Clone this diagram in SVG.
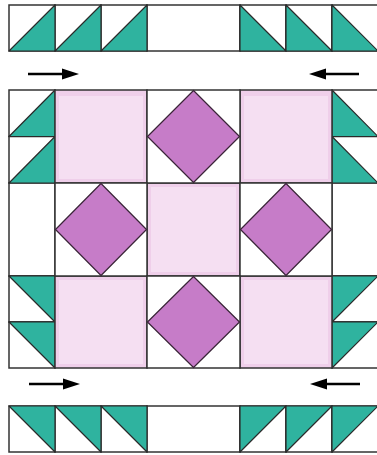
<svg xmlns="http://www.w3.org/2000/svg" width="377" height="455" viewBox="0 0 377 455">
<defs>
<style>
.bg{fill:#ffffff}
.cell{fill:#ffffff;stroke:#333333;stroke-width:1.5}
.tri{fill:#2fb39f;stroke:#2a2a2a;stroke-width:1.2;stroke-linejoin:round}
.pink{fill:#efcfea;stroke:#333333;stroke-width:1.5}
.pinkin{fill:#f5dff2;stroke:none}
.dia{fill:#c67cc8;stroke:#3a2438;stroke-width:1.2;stroke-linejoin:round}
.arr{stroke:#000000;stroke-width:2.5;fill:none}
.head{fill:#000000}
</style>
</defs>
<rect class="bg" x="0" y="0" width="377" height="455"/>

<g id="top-strip">
<rect class="cell" x="9" y="5" width="46" height="46"/>
<rect class="cell" x="55" y="5" width="46" height="46"/>
<rect class="cell" x="101" y="5" width="46" height="46"/>
<rect class="cell" x="147" y="5" width="93" height="46"/>
<rect class="cell" x="240" y="5" width="46" height="46"/>
<rect class="cell" x="286" y="5" width="46" height="46"/>
<rect class="cell" x="332" y="5" width="46" height="46"/>
<polygon class="tri" points="9,51 55,5 55,51"/>
<polygon class="tri" points="55,51 101,5 101,51"/>
<polygon class="tri" points="101,51 147,5 147,51"/>
<polygon class="tri" points="240,5 286,51 240,51"/>
<polygon class="tri" points="286,5 332,51 286,51"/>
<polygon class="tri" points="332,5 378,51 332,51"/>
</g>

<g id="left-column">
<rect class="cell" x="9" y="90" width="46" height="46.5"/>
<rect class="cell" x="9" y="136.5" width="46" height="46.5"/>
<rect class="cell" x="9" y="183" width="46" height="93"/>
<rect class="cell" x="9" y="276" width="46" height="46"/>
<rect class="cell" x="9" y="322" width="46" height="46"/>
<polygon class="tri" points="9,136.5 55,90 55,136.5"/>
<polygon class="tri" points="9,183 55,136.5 55,183"/>
<polygon class="tri" points="9,276 55,276 55,322"/>
<polygon class="tri" points="9,322 55,322 55,368"/>
</g>

<g id="right-column">
<rect class="cell" x="332" y="90" width="46" height="46.5"/>
<rect class="cell" x="332" y="136.5" width="46" height="46.5"/>
<rect class="cell" x="332" y="183" width="46" height="93"/>
<rect class="cell" x="332" y="276" width="46" height="46"/>
<rect class="cell" x="332" y="322" width="46" height="46"/>
<polygon class="tri" points="332,90 378,136.5 332,136.5"/>
<polygon class="tri" points="332,136.5 378,183 332,183"/>
<polygon class="tri" points="332,276 378,276 332,322"/>
<polygon class="tri" points="332,322 378,322 332,368"/>
</g>

<g id="pink-squares">
<rect class="pink" x="55" y="90" width="92" height="93"/>
<rect class="pinkin" x="59" y="96" width="84" height="83"/>
<rect class="pink" x="240" y="90" width="92" height="93"/>
<rect class="pinkin" x="244" y="96" width="84" height="83"/>
<rect class="pink" x="147" y="183" width="93" height="93"/>
<rect class="pinkin" x="151" y="187" width="85" height="85"/>
<rect class="pink" x="55" y="276" width="92" height="92"/>
<rect class="pinkin" x="59" y="280" width="84" height="84"/>
<rect class="pink" x="240" y="276" width="92" height="92"/>
<rect class="pinkin" x="244" y="280" width="84" height="84"/>
</g>

<g id="diamond-cells">
<rect class="cell" x="147" y="90" width="93" height="93"/>
<polygon class="dia" points="193.5,90.5 239.5,136.5 193.5,182.5 147.5,136.5"/>
<rect class="cell" x="55" y="183" width="92" height="93"/>
<polygon class="dia" points="101,183.5 146.5,229.5 101,275.5 55.5,229.5"/>
<rect class="cell" x="240" y="183" width="92" height="93"/>
<polygon class="dia" points="286,183.5 331.5,229.5 286,275.5 240.5,229.5"/>
<rect class="cell" x="147" y="276" width="93" height="92"/>
<polygon class="dia" points="193.5,276.5 239.5,322 193.5,367.5 147.5,322"/>
</g>

<g id="bottom-strip">
<rect class="cell" x="9" y="406" width="46" height="46"/>
<rect class="cell" x="55" y="406" width="46" height="46"/>
<rect class="cell" x="101" y="406" width="46" height="46"/>
<rect class="cell" x="147" y="406" width="93" height="46"/>
<rect class="cell" x="240" y="406" width="46" height="46"/>
<rect class="cell" x="286" y="406" width="46" height="46"/>
<rect class="cell" x="332" y="406" width="46" height="46"/>
<polygon class="tri" points="9,406 55,406 55,452"/>
<polygon class="tri" points="55,406 101,406 101,452"/>
<polygon class="tri" points="101,406 147,406 147,452"/>
<polygon class="tri" points="240,406 286,406 240,452"/>
<polygon class="tri" points="286,406 332,406 286,452"/>
<polygon class="tri" points="332,406 378,406 332,452"/>
</g>

<g id="connectors">
<line class="arr" x1="28" y1="74" x2="64" y2="74"/>
<polygon class="head" points="62,68.5 79,74 62,79.5"/>
<line class="arr" x1="359" y1="74" x2="324" y2="74"/>
<polygon class="head" points="326,68.5 309,74 326,79.5"/>
<line class="arr" x1="29" y1="384" x2="65" y2="384"/>
<polygon class="head" points="63,378.5 80,384 63,389.5"/>
<line class="arr" x1="360" y1="384" x2="325" y2="384"/>
<polygon class="head" points="327,378.5 310,384 327,389.5"/>
</g>
</svg>
